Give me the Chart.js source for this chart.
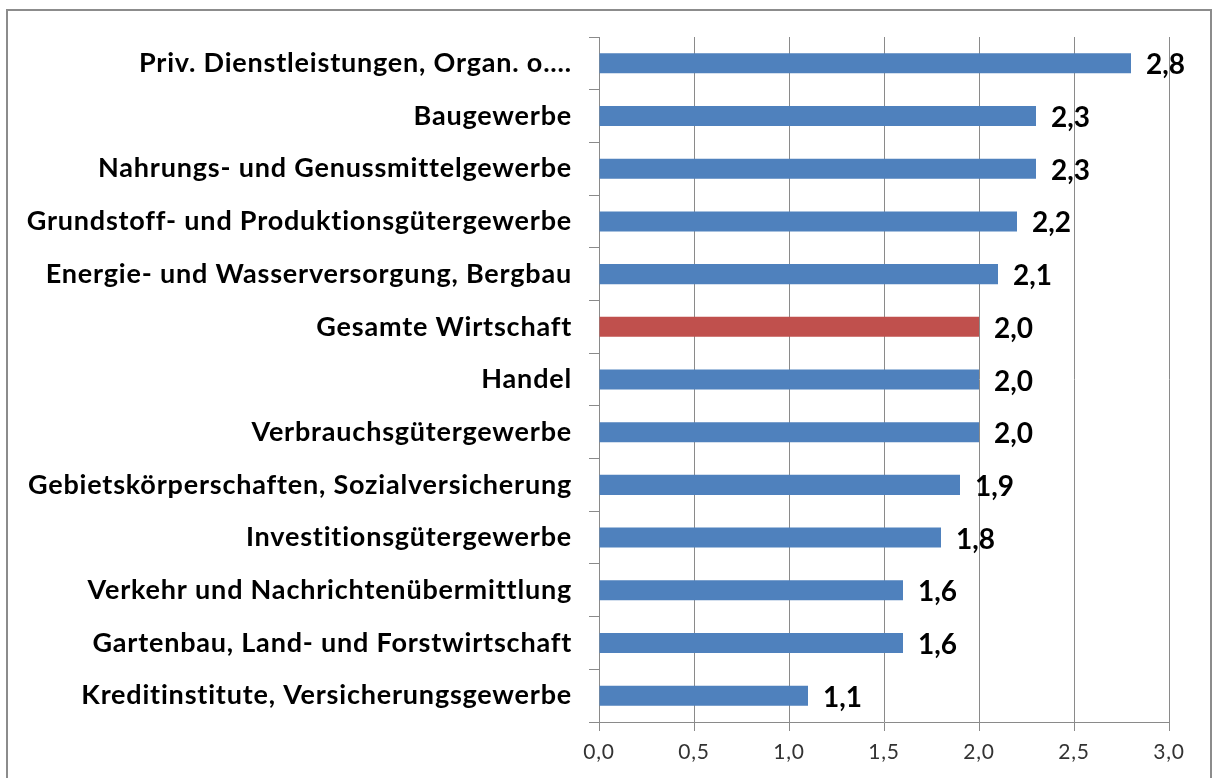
<!DOCTYPE html>
<html>
<head>
<meta charset="utf-8">
<script src="https://cdn.jsdelivr.net/npm/chart.js@4/dist/chart.umd.min.js"></script>
<style>
html,body{margin:0;padding:0;background:#fff;}
#wrap{position:relative;width:1214px;height:778px;}
canvas{display:block;}
</style>
</head>
<body>
<div id="wrap"><canvas id="c" width="1214" height="778"></canvas></div>
<script>
const categories = [
  "Priv. Dienstleistungen, Organ. o.\u2026",
  "Baugewerbe",
  "Nahrungs- und Genussmittelgewerbe",
  "Grundstoff- und Produktionsgütergewerbe",
  "Energie- und Wasserversorgung, Bergbau",
  "Gesamte Wirtschaft",
  "Handel",
  "Verbrauchsgütergewerbe",
  "Gebietskörperschaften, Sozialversicherung",
  "Investitionsgütergewerbe",
  "Verkehr und Nachrichtenübermittlung",
  "Gartenbau, Land- und Forstwirtschaft",
  "Kreditinstitute, Versicherungsgewerbe"
];
const values = [2.8, 2.3, 2.3, 2.2, 2.1, 2.0, 2.0, 2.0, 1.9, 1.8, 1.6, 1.6, 1.1];
const valueLabels = ["2,8","2,3","2,3","2,2","2,1","2,0","2,0","2,0","1,9","1,8","1,6","1,6","1,1"];
const highlightIndex = 5;
const xTickLabels = ["0,0","0,5","1,0","1,5","2,0","2,5","3,0"];

const BLUE = "#4F81BD", RED = "#C0504D", GRID = "#8a8a8a";

const framePlugin = {
  id: 'frame',
  beforeDraw(chart) {
    const ctx = chart.ctx;
    ctx.save();
    ctx.fillStyle = '#fff';
    ctx.fillRect(0, 0, chart.width, chart.height);
    ctx.strokeStyle = '#8c8c8c';
    ctx.lineWidth = 2;
    ctx.strokeRect(7, 10, 1204, 800);
    ctx.restore();
    ctx.letterSpacing = '0.8px';
  },
  beforeDatasetsDraw(chart) {
    chart.ctx.letterSpacing = '0px';
  }
};

const valueLabelPlugin = {
  id: 'valueLabels',
  afterDatasetsDraw(chart) {
    const ctx = chart.ctx;
    const meta = chart.getDatasetMeta(0);
    ctx.save();
    ctx.letterSpacing = '0px';
    ctx.font = "bold 28px Lato";
    ctx.fillStyle = "#000";
    ctx.textAlign = "left";
    ctx.textBaseline = "middle";
    meta.data.forEach((bar, i) => {
      ctx.fillText(valueLabels[i], bar.x + 15, bar.y + 2);
    });
    ctx.restore();
  }
};

new Chart(document.getElementById('c'), {
  type: 'bar',
  data: {
    labels: categories,
    datasets: [{
      data: values,
      backgroundColor: values.map((v, i) => i === highlightIndex ? RED : BLUE),
      borderWidth: 0,
      barPercentage: 0.76,
      categoryPercentage: 0.5
    }]
  },
  options: {
    indexAxis: 'y',
    responsive: false,
    animation: false,
    devicePixelRatio: 1,
    layout: { padding: { left: 0, top: 37, right: 45, bottom: 0 } },
    plugins: { legend: { display: false }, tooltip: { enabled: false } },
    scales: {
      x: {
        min: 0, max: 3,
        ticks: {
          stepSize: 0.5,
          color: "#333",
          font: { family: "Lato", size: 21 },
          padding: 9,
          callback: (v, i) => xTickLabels[i]
        },
        grid: { color: GRID, lineWidth: 1, tickLength: 9 },
        border: { color: GRID, width: 1 },
        afterFit(s) { s.height = 56; }
      },
      y: {
        ticks: {
          color: "#000",
          font: { family: "Lato", size: 27, weight: 'bold' },
          padding: 17,
          autoSkip: false
        },
        grid: { offset: true, drawOnChartArea: false, color: GRID, tickLength: 10 },
        border: { color: GRID, width: 1 },
        afterFit(s) { s.width = 599; }
      }
    }
  },
  plugins: [framePlugin, valueLabelPlugin]
});
</script>
</body>
</html>
